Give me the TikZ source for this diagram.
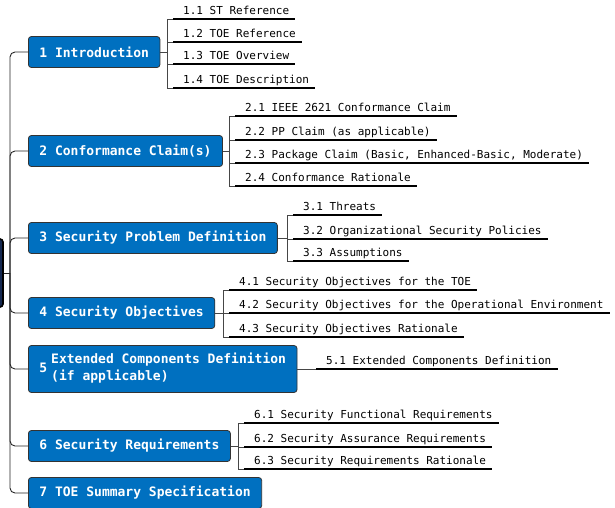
\documentclass[tikz,border=0pt]{standalone}
\usepackage{fontspec}
\setmonofont{DejaVu Sans Mono}
\definecolor{nodeblue}{RGB}{0,112,192}
\definecolor{rootblue}{RGB}{20,40,80}
\definecolor{linkgray}{RGB}{70,70,70}
\tikzset{
  mainbox/.style={draw=black!80, fill=nodeblue, rounded corners=3pt, text=white,
    font=\ttfamily\bfseries\fontsize{13}{17}\selectfont, inner xsep=11pt, inner ysep=0pt,
    minimum height=31pt, anchor=west, line width=0.8pt},
  rootbox/.style={draw=black, fill=rootblue, rounded corners=3pt, line width=1.6pt,
    minimum width=86pt, minimum height=68pt, inner sep=0pt},
  subtext/.style={font=\ttfamily\fontsize{11}{13}\selectfont, anchor=base west, inner sep=0pt, text=black},
  trunkline/.style={draw=black!85, line width=0.9pt, rounded corners=5pt},
  linkline/.style={draw=linkgray, line width=0.9pt},
  uline/.style={draw=black, line width=1.6pt},
}
\newcommand{\mysubtopic}[4]{%
  \node[subtext] (#1) at (#2+16, #3-5) {#4};
  \draw[linkline] ([xshift=-16pt,yshift=-5pt]#1.base west) -- ([xshift=-10pt,yshift=-5pt]#1.base west);
  \draw[uline] ([xshift=-10pt,yshift=-5pt]#1.base west) -- ([xshift=6pt,yshift=-5pt]#1.base east);
}
\begin{document}
\begin{tikzpicture}[x=1pt,y=-1pt]
\useasboundingbox (0,0) rectangle (615,507);

% root (partly off the picture)
\node[rootbox] (root) at (-40,273) {};
\coordinate (J) at (10,273);

% main topics
\node[mainbox] (n1) at (28,52) {1 Introduction};
\node[mainbox] (n2) at (28,151) {2 Conformance Claim(s)};
\node[mainbox] (n3) at (28,238) {3 Security Problem Definition};
\node[mainbox] (n4) at (28,313) {4 Security Objectives};
\node[mainbox, minimum height=47pt] (n5) at (28,369) {5\hspace{4pt}\begin{tabular}[c]{@{}l@{}}Extended Components Definition\\(if applicable)\end{tabular}};
\node[mainbox] (n6) at (28,446) {6 Security Requirements};
\node[mainbox] (n7) at (28,493) {7 TOE Summary Specification};

\draw[trunkline] (root.east) -- (J);
\foreach \n in {n1,n2,n3,n4,n5,n6,n7}{
  \draw[trunkline] (J) |- (\n.west);
}

% group 1
\coordinate (b1) at (167,52);
\draw[linkline] (n1.east) -- (b1);
\draw[linkline] (167,19) -- (167,88);
\mysubtopic{s11}{167}{19}{1.1 ST Reference}
\mysubtopic{s12}{167}{42}{1.2 TOE Reference}
\mysubtopic{s13}{167}{64}{1.3 TOE Overview}
\mysubtopic{s14}{167}{88}{1.4 TOE Description}

% group 2
\coordinate (b2) at (229,151);
\draw[linkline] (n2.east) -- (b2);
\draw[linkline] (229,116) -- (229,186);
\mysubtopic{s21}{229}{116}{2.1 IEEE 2621 Conformance Claim}
\mysubtopic{s22}{229}{140}{2.2 PP Claim (as applicable)}
\mysubtopic{s23}{229}{163}{2.3 Package Claim (Basic, Enhanced-Basic, Moderate)}
\mysubtopic{s24}{229}{186}{2.4 Conformance Rationale}

% group 3
\coordinate (b3) at (287,238);
\draw[linkline] (n3.east) -- (b3);
\draw[linkline] (287,215) -- (287,261);
\mysubtopic{s31}{287}{215}{3.1 Threats}
\mysubtopic{s32}{287}{239}{3.2 Organizational Security Policies}
\mysubtopic{s33}{287}{261}{3.3 Assumptions}

% group 4
\coordinate (b4) at (223,313);
\draw[linkline] (n4.east) -- (b4);
\draw[linkline] (223,290) -- (223,337);
\mysubtopic{s41}{223}{290}{4.1 Security Objectives for the TOE}
\mysubtopic{s42}{223}{313}{4.2 Security Objectives for the Operational Environment}
\mysubtopic{s43}{223}{337}{4.3 Security Objectives Rationale}

% group 5
\coordinate (b5) at (310,369);
\draw[linkline] (n5.east) -- (b5);
\mysubtopic{s51}{310}{369}{5.1 Extended Components Definition}

% group 6
\coordinate (b6) at (238,446);
\draw[linkline] (n6.east) -- (b6);
\draw[linkline] (238,423) -- (238,469);
\mysubtopic{s61}{238}{423}{6.1 Security Functional Requirements}
\mysubtopic{s62}{238}{447}{6.2 Security Assurance Requirements}
\mysubtopic{s63}{238}{469}{6.3 Security Requirements Rationale}
\end{tikzpicture}
\end{document}
